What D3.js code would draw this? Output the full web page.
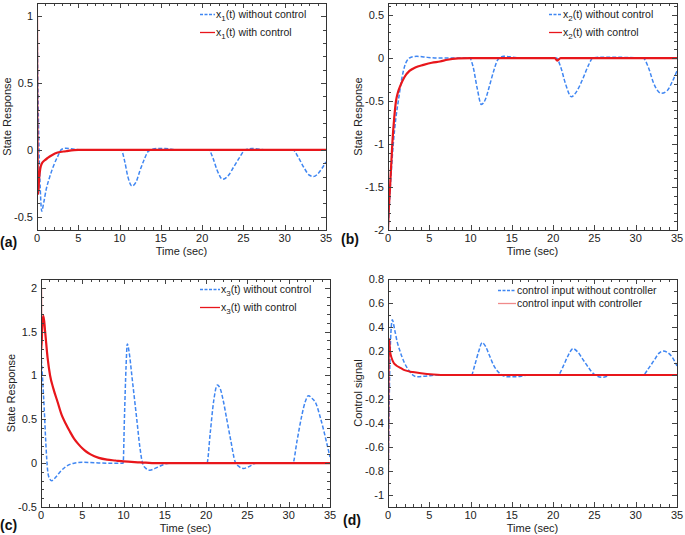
<!DOCTYPE html>
<html><head><meta charset="utf-8">
<script src="https://cdn.jsdelivr.net/npm/d3@7"></script>
<style>body{margin:0;background:#fff}svg{display:block}text{font-family:"Liberation Sans",Arial,sans-serif;fill:#222}</style>
</head><body><svg id="c" width="685" height="535"></svg>
<script>
// ---- data ----
const xTicksMajor = [0,5,10,15,20,25,30,35];

// (a) x1
const tA_open = [0,0.1,0.25,0.4,0.57,0.8,1.1,1.5,2.0,2.5,3.0,3.5,4.5,6,8,10.2,10.6,11.0,11.5,12.0,12.5,13.0,13.5,14.5,15.5,17,20.8,21.3,21.8,22.5,23.2,23.8,24.5,25.2,26,28,31.0,31.6,32.3,33.0,33.5,34.0,34.5,35];
const vA_open = [1,0.5,0.0,-0.3,-0.46,-0.4,-0.3,-0.21,-0.12,-0.05,0.005,0.012,0.005,0,0,0,-0.08,-0.2,-0.27,-0.24,-0.15,-0.07,-0.01,0.01,0.01,0,0,-0.06,-0.15,-0.22,-0.19,-0.13,-0.06,0,0.01,0,0,-0.05,-0.13,-0.19,-0.2,-0.18,-0.14,-0.09];
const tA_ctrl = [0,0.04,0.1,0.15,0.25,0.4,0.6,0.9,1.3,1.8,2.5,3.5,5,35];
const vA_ctrl = [1,0.2,-0.25,-0.33,-0.22,-0.14,-0.1,-0.08,-0.06,-0.04,-0.02,-0.01,0,0];

// (b) x2
const tB_open = [0,0.25,0.64,0.95,1.25,1.65,2.0,2.3,2.8,3.5,4.5,6,8,9.9,10.3,10.8,11.3,11.8,12.3,12.8,13.3,14,16,20.4,20.9,21.5,22.2,22.9,23.6,24.3,24.8,26,30.9,31.5,32.2,33.1,33.8,34.4,35];
const vB_open = [-2,-1.55,-1.0,-0.7,-0.5,-0.25,-0.1,-0.03,0.01,0.02,0.01,0,0,0,-0.1,-0.35,-0.54,-0.48,-0.32,-0.15,-0.02,0.02,0,0,-0.1,-0.3,-0.45,-0.38,-0.24,-0.08,0,0.01,0,-0.1,-0.3,-0.41,-0.38,-0.28,-0.15];
const tB_ctrl = [0,0.1,0.25,0.52,0.75,0.97,1.2,1.5,2.0,2.6,3.3,4.3,5.3,6.3,7.2,8.5,10,20.2,20.5,20.9,35];
const vB_ctrl = [-2,-1.75,-1.5,-1.0,-0.7,-0.5,-0.4,-0.32,-0.22,-0.15,-0.11,-0.08,-0.055,-0.04,-0.02,-0.005,0,0,-0.03,0,0];

// (c) x3
const tC_open = [0,0.2,0.4,0.6,0.8,1.0,1.3,1.7,2.3,3,4,5,6.5,8,9.95,10.1,10.3,10.45,10.7,11.0,11.3,11.6,11.95,12.3,12.7,13.2,13.8,14.5,15.5,20.1,20.5,20.9,21.35,21.7,22.1,22.5,23.0,23.5,24.0,24.5,25.2,26,30.5,31.0,31.6,32.0,32.4,32.8,33.3,33.8,34.3,34.6,35];
const vC_open = [1.25,0.95,0.6,0.2,-0.08,-0.17,-0.2,-0.17,-0.1,-0.04,0,0.01,0.005,0,0,0.5,1.1,1.36,1.25,1.0,0.75,0.5,0.2,0,-0.06,-0.08,-0.06,-0.03,0,0,0.35,0.7,0.89,0.85,0.7,0.5,0.25,0.02,-0.04,-0.06,-0.04,0,0,0.25,0.55,0.7,0.77,0.74,0.68,0.53,0.35,0.23,0.07];
const tC_ctrl = [0,0.05,0.15,0.3,0.5,0.8,1.1,1.5,2,2.5,3,3.5,4,4.5,5,5.5,6,7,8,9,10,12,14,35];
const vC_ctrl = [2.0,1.3,1.55,1.68,1.5,1.2,1.0,0.85,0.7,0.55,0.45,0.36,0.28,0.22,0.17,0.13,0.1,0.06,0.04,0.03,0.02,0.01,0,0];

// (d) control signal
const tD_open = [0,0.1,0.2,0.35,0.52,0.8,1.1,1.45,2.0,2.5,3.0,3.5,4.5,6,10.1,10.5,11.0,11.4,11.8,12.3,12.8,13.6,14.5,15.5,17,20.6,21.2,21.8,22.4,23.0,23.6,24.3,24.9,26,27,30.9,31.5,32.2,32.8,33.3,33.8,34.4,35];
const vD_open = [-1.0,-0.45,0.0,0.35,0.46,0.38,0.28,0.2,0.1,0.04,0.0,-0.015,-0.01,0,0,0.08,0.2,0.27,0.24,0.16,0.08,0.01,-0.015,-0.015,0,0,0.07,0.16,0.22,0.19,0.13,0.06,0.01,-0.02,0,0,0.05,0.12,0.18,0.2,0.19,0.15,0.075];
const tD_ctrl = [0,0.05,0.14,0.25,0.45,0.7,1.0,1.5,2.0,3.0,4.0,5.5,7,35];
const vD_ctrl = [-1.0,-0.2,0.3,0.2,0.14,0.1,0.08,0.06,0.04,0.025,0.015,0.005,0,0];

const legendA = [["x","1","(t) without control"],["x","1","(t) with control"]];
const legendB = [["x","2","(t) without control"],["x","2","(t) with control"]];
const legendC = [["x","3","(t) without control"],["x","3","(t) with control"]];
const legendD = [["control input without controller","",""],["control input with controller","",""]];

// ---- drawing ----
const svg = d3.select("#c");
svg.append("rect").attr("width",685).attr("height",535).attr("fill","#fff");
const BLUE = "#3f86f2", RED = "#e8161b";
const fmt = v => String(+v.toFixed(2));

function panel(p){
  const g = svg.append("g");
  const x = d3.scaleLinear().domain([0,35]).range([p.l,p.r]);
  const y = d3.scaleLinear().domain(p.yDom).range([p.b,p.t]);
  const cid = "clip"+p.id;
  svg.append("clipPath").attr("id",cid).append("rect")
    .attr("x",p.l).attr("y",p.t).attr("width",p.r-p.l).attr("height",p.b-p.t);

  const plot = g.append("g").attr("clip-path",`url(#${cid})`);
  const line = d3.line().x(d=>x(d[0])).y(d=>y(d[1])).curve(d3.curveMonotoneX);
  plot.append("path").datum(d3.zip(p.tOpen,p.vOpen)).attr("d",line)
    .attr("fill","none").attr("stroke",BLUE).attr("stroke-width",1.5).attr("stroke-dasharray","4,2");
  plot.append("path").datum(d3.zip(p.tCtrl,p.vCtrl)).attr("d",line)
    .attr("fill","none").attr("stroke",RED).attr("stroke-width",p.redW).attr("stroke-linejoin","round");

  // ticks
  const tk = g.append("g").attr("stroke","#444").attr("stroke-width",1);
  d3.range(0,35.001,1).forEach(v=>{
    const L = (Math.abs(v%5)<1e-6)?5:3, X = Math.round(x(v))+0.5;
    tk.append("line").attr("x1",X).attr("x2",X).attr("y1",p.b).attr("y2",p.b-L);
    tk.append("line").attr("x1",X).attr("x2",X).attr("y1",p.t).attr("y2",p.t+L);
  });
  const minors = d3.range(Math.ceil(p.yDom[0]/p.yMinor-1e-6), Math.floor(p.yDom[1]/p.yMinor+1e-6)+1).map(i=>+(i*p.yMinor).toFixed(3));
  minors.forEach(v=>{
    const isMaj = Math.abs(v/p.yMajor - Math.round(v/p.yMajor))<1e-6;
    const L = isMaj?5:3, Y = Math.round(y(v))+0.5;
    tk.append("line").attr("x1",p.l).attr("x2",p.l+L).attr("y1",Y).attr("y2",Y);
    tk.append("line").attr("x1",p.r).attr("x2",p.r-L).attr("y1",Y).attr("y2",Y);
  });
  g.append("rect").attr("x",p.l+0.5).attr("y",p.t+0.5).attr("width",p.r-p.l).attr("height",p.b-p.t)
    .attr("fill","none").attr("stroke","#333").attr("stroke-width",1);

  // tick labels
  xTicksMajor.forEach(v=>{
    g.append("text").attr("x",x(v)).attr("y",p.b+12).attr("text-anchor","middle")
      .attr("font-size",11).text(fmt(v));
  });
  p.yTicks.forEach(v=>{
    g.append("text").attr("x",p.l-4).attr("y",y(v)+4).attr("text-anchor","end")
      .attr("font-size",11).text(fmt(v));
  });
  g.append("text").attr("x",(p.l+p.r)/2).attr("y",p.b+24.5).attr("text-anchor","middle")
    .attr("font-size",11).text("Time (sec)");
  g.append("text").attr("transform",`translate(${p.l-30},${(p.t+p.b)/2}) rotate(-90)`)
    .attr("text-anchor","middle").attr("dy","0.35em").attr("font-size",11).text(p.yTitle);
  g.append("text").attr("x",p.lx).attr("y",p.ly).attr("font-size",14).attr("font-weight","bold")
    .style("fill","#111").text(p.label);

  // legend
  p.legend.forEach((parts,i)=>{
    const yy = p.legY[i];
    g.append("line").attr("x1",p.legX0).attr("x2",p.legX1).attr("y1",yy-3.5).attr("y2",yy-3.5)
      .attr("stroke", i===0?BLUE:(p.legRed||RED)).attr("stroke-width",1.3)
      .attr("stroke-dasharray", i===0?"3,1.5":null);
    const t = g.append("text").attr("x",p.legX1+1).attr("y",yy).attr("font-size",10.5);
    t.append("tspan").text(parts[0]);
    if(parts[1]){
      t.append("tspan").attr("dy",3).attr("font-size",8).text(parts[1]);
      t.append("tspan").attr("dy",-3).text(parts[2]);
    }
  });
}

panel({id:"a",l:37,r:326,t:3,b:230,yDom:[-0.6,1.1],yMajor:0.5,yMinor:0.1,yTicks:[-0.5,0,0.5,1],
  tOpen:tA_open,vOpen:vA_open,tCtrl:tA_ctrl,vCtrl:vA_ctrl,redW:2.2,yTitle:"State Response",
  label:"(a)",lx:0,ly:247,legend:legendA,legX0:200,legX1:215,legY:[18,36]});
panel({id:"b",l:388,r:677,t:3,b:230,yDom:[-2,0.64],yMajor:0.5,yMinor:0.1,yTicks:[-2,-1.5,-1,-0.5,0,0.5],
  tOpen:tB_open,vOpen:vB_open,tCtrl:tB_ctrl,vCtrl:vB_ctrl,redW:2.2,yTitle:"State Response",
  label:"(b)",lx:341,ly:244,legend:legendB,legX0:549,legX1:562,legY:[18,36]});
panel({id:"c",l:41,r:330,t:279,b:507,yDom:[-0.5,2.1],yMajor:0.5,yMinor:0.1,yTicks:[-0.5,0,0.5,1,1.5,2],
  tOpen:tC_open,vOpen:vC_open,tCtrl:tC_ctrl,vCtrl:vC_ctrl,redW:2.2,yTitle:"State Response",
  label:"(c)",lx:0,ly:530,legend:legendC,legX0:200,legX1:220,legY:[293,311]});
panel({id:"d",l:388,r:677,t:279,b:507,yDom:[-1.1,0.8],yMajor:0.2,yMinor:0.1,yTicks:[-1,-0.8,-0.6,-0.4,-0.2,0,0.2,0.4,0.6,0.8],
  tOpen:tD_open,vOpen:vD_open,tCtrl:tD_ctrl,vCtrl:vD_ctrl,redW:2.0,yTitle:"Control signal",
  label:"(d)",lx:343,ly:525,legend:legendD,legX0:498,legX1:516,legY:[294,307],legRed:"#f08a8a"});
</script></body></html>
